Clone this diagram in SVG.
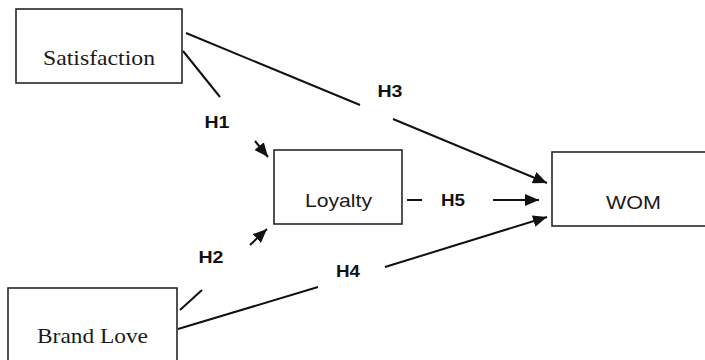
<svg xmlns="http://www.w3.org/2000/svg" width="705" height="360" viewBox="0 0 705 360">
<style>
  .box { fill: #ffffff; stroke: #262626; stroke-width: 1.6; }
  .serif { font-family: "Liberation Serif", "Times New Roman", serif; font-size: 22px; fill: #1a1a1a; }
  .sans { font-family: "Liberation Sans", Arial, sans-serif; font-size: 19px; fill: #1a1a1a; }
  .lbl { font-family: "Liberation Sans", Arial, sans-serif; font-size: 17px; font-weight: bold; fill: #111111; text-anchor: middle; }
  .ln { stroke: #111111; stroke-width: 2; fill: none; }
</style>
<defs>
  <marker id="arr" markerUnits="userSpaceOnUse" markerWidth="14" markerHeight="12" refX="14" refY="6" orient="auto">
    <path d="M0,0 L14,6 L0,12 z" fill="#111111"/>
  </marker>
</defs>
<rect width="705" height="360" fill="#ffffff"/>
<g id="satisfaction">
  <rect class="box" x="16" y="9" width="166" height="74"/>
  <text class="serif" x="43" y="65" textLength="112" lengthAdjust="spacingAndGlyphs">Satisfaction</text>
</g>
<g id="loyalty">
  <rect class="box" x="274" y="150" width="128" height="74"/>
  <text class="sans" x="305" y="207" textLength="67" lengthAdjust="spacingAndGlyphs">Loyalty</text>
</g>
<g id="wom">
  <rect class="box" x="552" y="152" width="170" height="74"/>
  <text class="sans" x="606" y="209" textLength="55" lengthAdjust="spacingAndGlyphs">WOM</text>
</g>
<g id="brandlove">
  <rect class="box" x="8" y="288" width="169" height="90"/>
  <text class="serif" x="37" y="343" textLength="111" lengthAdjust="spacingAndGlyphs">Brand Love</text>
</g>
<g id="connectors">
  <!-- H1 -->
  <line class="ln" x1="183" y1="51" x2="220" y2="97"/>
  <line class="ln" x1="255" y1="141" x2="268" y2="157" marker-end="url(#arr)"/>
  <text class="lbl" x="217" y="128" textLength="25" lengthAdjust="spacingAndGlyphs">H1</text>
  <!-- H3 -->
  <line class="ln" x1="186" y1="33" x2="360" y2="105"/>
  <line class="ln" x1="393" y1="119" x2="547" y2="183" marker-end="url(#arr)"/>
  <text class="lbl" x="390" y="97" textLength="25" lengthAdjust="spacingAndGlyphs">H3</text>
  <!-- H5 -->
  <line class="ln" x1="407" y1="200" x2="422" y2="200"/>
  <line class="ln" x1="493" y1="200" x2="539" y2="200" marker-end="url(#arr)"/>
  <text class="lbl" x="453" y="206" textLength="24" lengthAdjust="spacingAndGlyphs">H5</text>
  <!-- H2 -->
  <line class="ln" x1="180" y1="310" x2="202" y2="290"/>
  <line class="ln" x1="250" y1="245" x2="267" y2="229" marker-end="url(#arr)"/>
  <text class="lbl" x="211" y="263" textLength="25" lengthAdjust="spacingAndGlyphs">H2</text>
  <!-- H4 -->
  <line class="ln" x1="178" y1="329" x2="318" y2="287"/>
  <line class="ln" x1="385" y1="267" x2="547" y2="217" marker-end="url(#arr)"/>
  <text class="lbl" x="348" y="277" textLength="24" lengthAdjust="spacingAndGlyphs">H4</text>
</g>
</svg>
